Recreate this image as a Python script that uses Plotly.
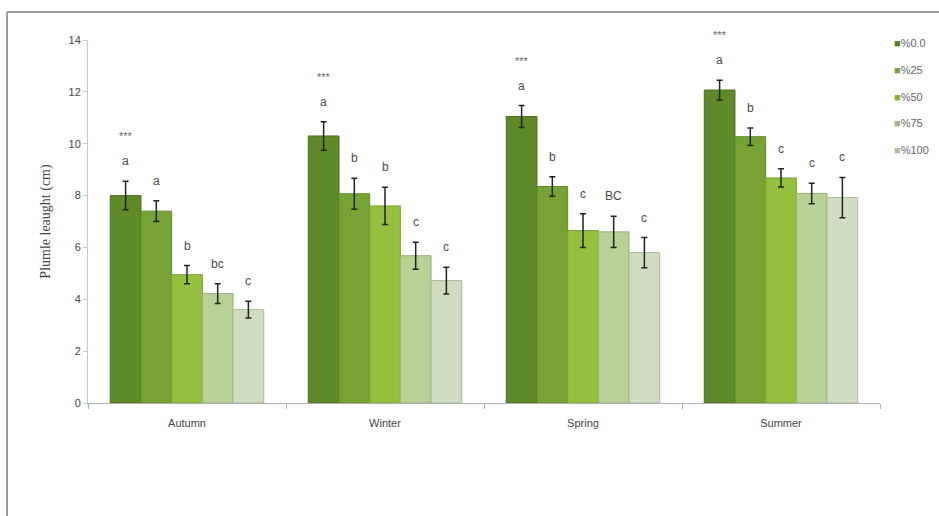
import plotly.graph_objects as go

seasons = ["Autumn", "Winter", "Spring", "Summer"]
series_names = ["%0.0", "%25", "%50", "%75", "%100"]
values = {
    "%0.0": [8.0, 10.3, 11.05, 12.07],
    "%25": [7.4, 8.07, 8.35, 10.27],
    "%50": [4.95, 7.6, 6.65, 8.68],
    "%75": [4.22, 5.68, 6.6, 8.08],
    "%100": [3.6, 4.72, 5.8, 7.92],
}
errors = {
    "%0.0": [0.55, 0.55, 0.42, 0.38],
    "%25": [0.4, 0.6, 0.38, 0.34],
    "%50": [0.35, 0.72, 0.65, 0.35],
    "%75": [0.38, 0.52, 0.6, 0.4],
    "%100": [0.32, 0.52, 0.58, 0.78],
}
letters = {
    "%0.0": ["a", "a", "a", "a"],
    "%25": ["a", "b", "b", "b"],
    "%50": ["b", "b", "c", "c"],
    "%75": ["bc", "c", "BC", "c"],
    "%100": ["c", "c", "c", "c"],
}
stars = ["***", "***", "***", "***"]

bar_colors = ["#5f8a2a", "#77a334", "#93c13e", "#b7d197", "#d0ddc0"]
edge_colors = ["#4a6d1e", "#5f8a28", "#78a230", "#95ae78", "#a9b79a"]
legend_colors = ["#5d7a35", "#7f9e45", "#90ad3c", "#a5b38a", "#b3bca0"]

W, H = 939, 516
ml, mt, mb = 88, 40, 113
pw = W - ml
ph = H - mt - mb

def px_x(p):
    return (p - ml) / pw

def px_y(p):
    return (H - mb - p) / ph

fig = go.Figure()
for i, s in enumerate(series_names):
    fig.add_trace(go.Bar(
        name=s, x=seasons, y=values[s],
        marker=dict(color=bar_colors[i], line=dict(color=edge_colors[i], width=1)),
        error_y=dict(type="data", array=errors[s], color="#222222", thickness=1.5, width=3),
        showlegend=False,
    ))

nser = len(series_names)
for i, s in enumerate(series_names):
    for j, season in enumerate(seasons):
        top = values[s][j] + errors[s][j]
        fig.add_annotation(
            x=season, y=top, text=letters[s][j], showarrow=False,
            xshift=(i - (nser - 1) / 2) * 30.6, yshift=20,
            font=dict(family="Liberation Sans", size=12, color="#4a4a4a"),
        )
        if i == 0:
            fig.add_annotation(
                x=season, y=top, text=stars[j], showarrow=False,
                xshift=(i - (nser - 1) / 2) * 30.6, yshift=45,
                font=dict(family="Liberation Sans", size=11, color="#666666"),
            )

# custom legend (right side, clipped by the page edge as in the reference)
legend_rows = [43, 70, 97, 123, 150]
for i, s in enumerate(series_names):
    fig.add_annotation(
        xref="paper", yref="paper", x=px_x(892), y=px_y(legend_rows[i]),
        xanchor="left", yanchor="middle", showarrow=False,
        text=f'<span style="color:{legend_colors[i]}">■</span>{s}',
        font=dict(family="Liberation Sans", size=11, color="#666666"),
    )

# outer chart border (top and left edges)
fig.add_shape(type="line", xref="paper", yref="paper",
              x0=px_x(7), x1=px_x(945), y0=px_y(12), y1=px_y(12),
              line=dict(color="#9a9a9a", width=2))
fig.add_shape(type="line", xref="paper", yref="paper",
              x0=px_x(7), x1=px_x(7), y0=px_y(12), y1=px_y(520),
              line=dict(color="#9a9a9a", width=2))

fig.update_layout(
    width=W, height=H,
    margin=dict(l=ml, r=0, t=mt, b=mb, autoexpand=False),
    plot_bgcolor="white", paper_bgcolor="white",
    barmode="group", bargap=0.225, bargroupgap=0,
    showlegend=False,
    font=dict(family="Liberation Sans", color="#444444"),
    xaxis=dict(domain=[0, px_x(880)], showline=True, linecolor="#b0b0b0", linewidth=1,
               ticks="outside", tickson="boundaries", ticklen=5, tickcolor="#b0b0b0",
               ticklabelstandoff=10,
               tickfont=dict(size=11, color="#444444"), showgrid=False),
    yaxis=dict(range=[0, 14], dtick=2, showline=True, linecolor="#c8c8c8", linewidth=1,
               ticks="outside", ticklen=4, tickcolor="#c8c8c8", showgrid=False,
               zeroline=False, tickfont=dict(size=11, color="#444444"),
               title=dict(text="Plumle leaught (cm)", standoff=14,
                          font=dict(family="Liberation Serif", size=14, color="#444444"))),
)

fig.write_html("out.html")
